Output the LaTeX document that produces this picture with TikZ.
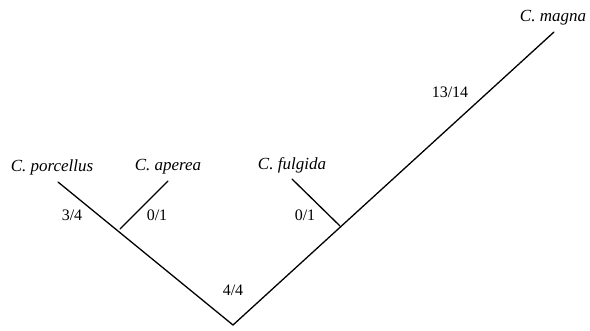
\documentclass[tikz,border=0pt]{standalone}
\usepackage{fontspec}
\setmainfont{Liberation Serif}
\usetikzlibrary{positioning}

\begin{document}
\begin{tikzpicture}[x=1pt, y=-1pt,
  branch/.style={line width=1.3pt, line cap=round},
  taxon/.style={font=\fontsize{17}{19}\selectfont\itshape, inner sep=1pt},
  count/.style={font=\fontsize{16}{18}\selectfont, inner sep=1pt},
]
\useasboundingbox (0,0) rectangle (590,330);

% tips, joints and root
\coordinate (root) at (233,325);
\coordinate (porc) at (58,182);
\coordinate (aper) at (168,181);
\coordinate (fulg) at (292,179);
\coordinate (magn) at (554,32);
\coordinate (japer) at (120,229);
\coordinate (jfulg) at (340,226);

\draw[branch] (porc) -- (root) -- (magn);
\draw[branch] (japer) -- (aper);
\draw[branch] (jfulg) -- (fulg);

\node[taxon] (lporc) at (52,167) {C. porcellus};
\node[taxon] (laper) at (168,167) {C. aperea};
\node[taxon] (lfulg) at (292,165) {C. fulgida};
\node[taxon] (lmagn) at (553,18) {C. magna};

\node[count] (cporc) at (72,215) {3/4};
\node[count] (caper) at (157,215) {0/1};
\node[count] (croot) at (233,290) {4/4};
\node[count] (cfulg) at (305,215) {0/1};
\node[count] (cmagn) at (450,92) {13/14};

\end{tikzpicture}
\end{document}
